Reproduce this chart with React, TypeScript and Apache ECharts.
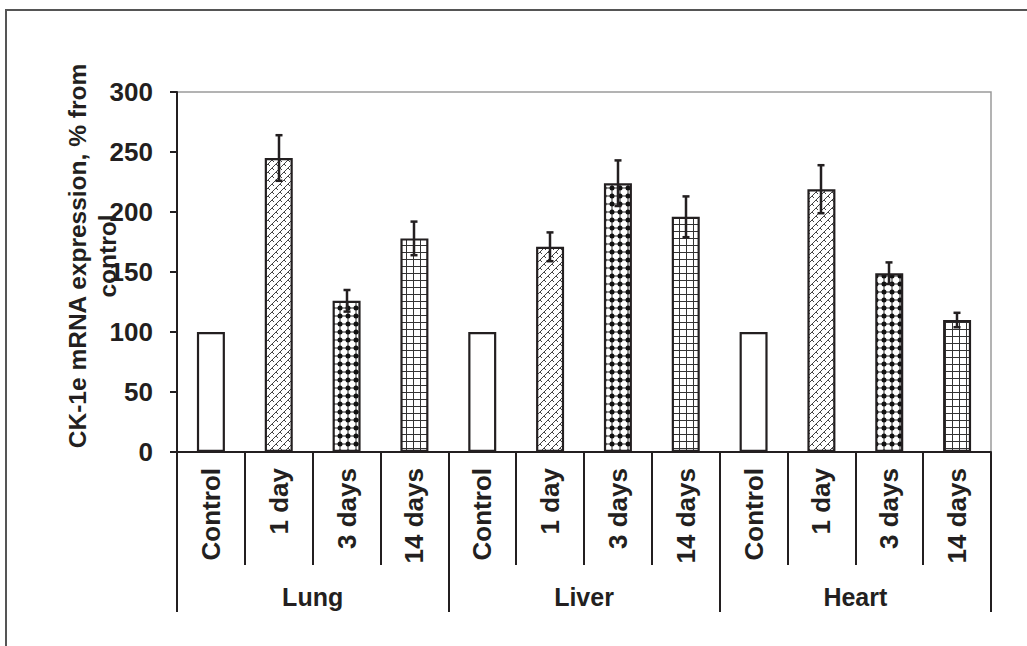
import React, { useEffect, useRef } from "react";
import * as echarts from "echarts";

const subCategories = [
  "Control", "1 day", "3 days", "14 days",
  "Control", "1 day", "3 days", "14 days",
  "Control", "1 day", "3 days", "14 days",
];
const groups = ["Lung", "Liver", "Heart"];
const values = [100, 245, 126, 178, 100, 171, 224, 196, 100, 219, 149, 110];
const errors = [0, 19, 9, 14, 0, 12, 19, 17, 0, 20, 9, 6];
const yTicks = { min: 0, max: 300, interval: 50 };
const yTitleLines = ["CK-1e mRNA expression, % from", "control"];

const FONT = "'Liberation Sans', Arial, Helvetica, sans-serif";
const INK = "#231f20";

function makePattern(w: number, h: number, draw: (ctx: CanvasRenderingContext2D) => void) {
  const c = document.createElement("canvas");
  c.width = w;
  c.height = h;
  const ctx = c.getContext("2d")!;
  ctx.fillStyle = "#fff";
  ctx.fillRect(0, 0, w, h);
  draw(ctx);
  return { image: c.toDataURL(), imageWidth: w, imageHeight: h, repeat: "repeat" } as any;
}

export default function App() {
  const ref = useRef<HTMLDivElement>(null);
  useEffect(() => {
    if (!ref.current) return;
    const chart = echarts.init(ref.current, null, { renderer: "svg" });

    const hatch = makePattern(8, 8, (ctx) => {
      ctx.strokeStyle = "#444";
      ctx.lineWidth = 1;
      ctx.beginPath();
      ctx.moveTo(-1, 9); ctx.lineTo(9, -1);
      ctx.moveTo(-1, 1); ctx.lineTo(1, -1);
      ctx.moveTo(7, 9); ctx.lineTo(9, 7);
      ctx.moveTo(4, 4); ctx.lineTo(6, 6);
      ctx.moveTo(0, 0); ctx.lineTo(2, 2);
      ctx.stroke();
    });
    const dots = makePattern(8, 8, (ctx) => {
      ctx.strokeStyle = "#111";
      ctx.lineWidth = 0.9;
      ctx.beginPath();
      ctx.moveTo(0, 4); ctx.lineTo(8, 4);
      ctx.moveTo(4, 0); ctx.lineTo(4, 8);
      ctx.stroke();
      ctx.fillStyle = "#111";
      ctx.beginPath();
      ctx.arc(4, 4, 2.5, 0, Math.PI * 2);
      ctx.fill();
    });
    const grid = makePattern(7, 7, (ctx) => {
      ctx.strokeStyle = "#333";
      ctx.lineWidth = 1;
      ctx.beginPath();
      ctx.moveTo(0.5, 0); ctx.lineTo(0.5, 7);
      ctx.moveTo(0, 0.5); ctx.lineTo(7, 0.5);
      ctx.stroke();
    });
    const fills = ["#ffffff", hatch, dots, grid];

    const barData = values.map((v, i) => ({
      value: v,
      itemStyle: { color: fills[i % 4] },
    }));
    const errData = values
      .map((v, i) => [i, v - errors[i], v + errors[i]])
      .filter((d, i) => errors[i] > 0);

    const option: any = {
      animation: false,
      backgroundColor: "#ffffff",
      grid: {
        left: 177,
        right: 36,
        top: 92,
        bottom: 194,
        show: true,
        borderColor: "#9a9a9a",
        borderWidth: 1.5,
        backgroundColor: "transparent",
      },
      xAxis: [
        {
          type: "category",
          data: subCategories,
          position: "bottom",
          axisLine: { show: true, lineStyle: { color: INK, width: 2 } },
          axisTick: { show: true, interval: 0, length: 113, lineStyle: { color: INK, width: 2 } },
          axisLabel: {
            interval: 0,
            rotate: 90,
            margin: 16,
            fontSize: 26,
            fontWeight: "bold",
            fontFamily: FONT,
            color: INK,
          },
          splitLine: { show: false },
        },
        {
          type: "category",
          data: groups,
          position: "bottom",
          axisLine: { show: false },
          axisTick: { show: true, interval: 0, length: 160, lineStyle: { color: INK, width: 2 } },
          axisLabel: {
            interval: 0,
            margin: 132,
            fontSize: 25,
            fontWeight: "bold",
            fontFamily: FONT,
            color: INK,
          },
          splitLine: { show: false },
        },
      ],
      yAxis: {
        type: "value",
        min: yTicks.min,
        max: yTicks.max,
        interval: yTicks.interval,
        axisLine: { show: true, lineStyle: { color: INK, width: 2 } },
        axisTick: { show: true, length: 7, lineStyle: { color: INK, width: 2 } },
        axisLabel: {
          margin: 24,
          fontSize: 26,
          fontWeight: "bold",
          fontFamily: FONT,
          color: INK,
        },
        splitLine: { show: false },
      },
      graphic: [
        {
          type: "rect",
          z: -10,
          shape: { x: 6, y: 10, width: 2000, height: 2000 },
          style: { fill: "none", stroke: "#555", lineWidth: 2 },
        },
        ...yTitleLines.map((t, i) => ({
          type: "text",
          x: 77 + i * 30,
          y: 256,
          rotation: Math.PI / 2,
          style: {
            text: t,
            fontSize: 24.5,
            fontWeight: "bold",
            fontFamily: FONT,
            fill: INK,
            align: "center",
            verticalAlign: "middle",
          },
        })),
      ],
      series: [
        {
          type: "bar",
          xAxisIndex: 0,
          yAxisIndex: 0,
          data: barData,
          barWidth: 28,
          itemStyle: { borderColor: INK, borderWidth: 2.2 },
        },
        {
          type: "custom",
          xAxisIndex: 0,
          yAxisIndex: 0,
          data: errData,
          z: 10,
          renderItem: (params: any, api: any) => {
            const x = api.value(0);
            const lo = api.coord([x, api.value(1)]);
            const hi = api.coord([x, api.value(2)]);
            const cx = Math.round(lo[0]);
            const style = { stroke: INK, lineWidth: 2.5 };
            return {
              type: "group",
              children: [
                { type: "line", shape: { x1: cx, y1: lo[1], x2: cx, y2: hi[1] }, style },
                { type: "line", shape: { x1: cx - 3.5, y1: hi[1], x2: cx + 3.5, y2: hi[1] }, style },
                { type: "line", shape: { x1: cx - 3.5, y1: lo[1], x2: cx + 3.5, y2: lo[1] }, style },
              ],
            };
          },
        },
      ],
    };
    chart.setOption(option);
    return () => chart.dispose();
  }, []);
  return (
    <div
      ref={ref}
      style={{ position: "fixed", left: 0, top: 0, width: 1027, height: 646, background: "#fff" }}
    />
  );
}
